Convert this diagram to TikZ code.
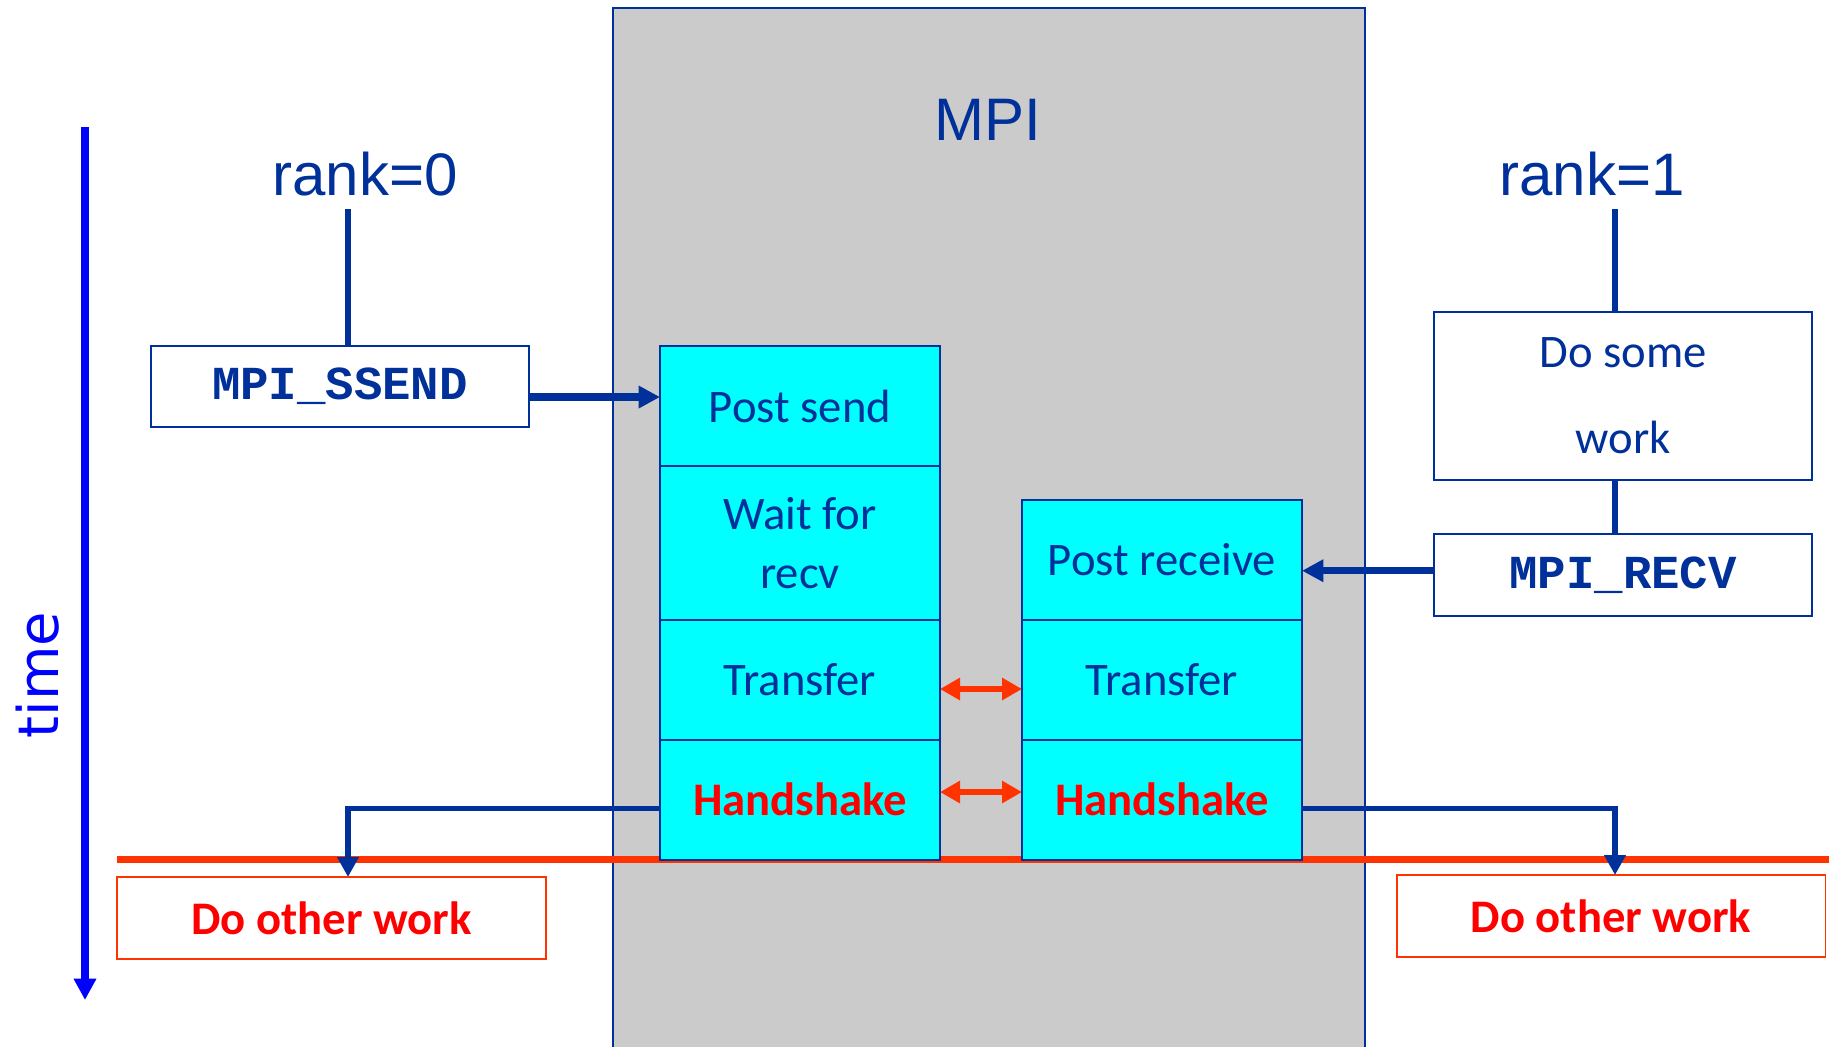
\documentclass[tikz,border=0pt]{standalone}
\usepackage{fontspec}
\setmainfont{Carlito}
\newfontfamily\arialfont{Liberation Sans}
\newfontfamily\courfont{Liberation Mono}
\newfontfamily\dejafont{DejaVu Sans}
\usetikzlibrary{arrows.meta}

\definecolor{mpinavy}{RGB}{0,48,153}
\definecolor{mpigray}{RGB}{203,203,203}
\definecolor{mpired}{RGB}{255,0,0}
\definecolor{mpiorange}{RGB}{255,51,0}
\definecolor{mpicyan}{RGB}{0,255,255}
\definecolor{mpiblue}{RGB}{0,0,255}

\tikzset{every picture/.style={line width=0.75pt}}
\tikzset{
  cellbox/.style={draw=mpinavy, line width=1.5pt, fill=mpicyan, minimum width=210pt, minimum height=90pt, inner sep=0pt, outer sep=0pt, align=center, text=mpinavy, font=\fontsize{35}{44}\selectfont},
  shakecell/.style={cellbox, text=mpired, font=\fontsize{35}{44}\selectfont\bfseries},
  callbox/.style={draw=mpinavy, line width=1.5pt, fill=white, minimum width=283.5pt, inner sep=0pt, outer sep=0pt, align=center, text=mpinavy},
  monotext/.style={font=\courfont\fontsize{35.5}{42}\selectfont\bfseries},
  otherbox/.style={draw=mpiorange, line width=1.25pt, fill=white, minimum width=321.5pt, minimum height=61.5pt, inner sep=0pt, outer sep=0pt, text=mpired, font=\fontsize{35}{42}\selectfont\bfseries},
  ranklabel/.style={text=mpinavy, font=\arialfont\fontsize{45}{54}\selectfont, inner sep=0pt, anchor=base},
  conn/.style={draw=mpinavy, line width=4.5pt},
  connarrow/.style={conn, line width=5.5pt, -{Triangle[length=16pt,width=16pt]}},
  donearrow/.style={conn, line width=4pt, -{Triangle[length=15pt,width=15.5pt]}},
  xchg/.style={draw=mpiorange, line width=5pt, {Triangle[length=15pt,width=16pt]}-{Triangle[length=15pt,width=16pt]}},
  timearrow/.style={draw=mpiblue, line width=5.5pt, -{Triangle[length=16pt,width=16pt]}},
  syncline/.style={draw=mpiorange, line width=5.5pt},
}

\begin{document}
\begin{tikzpicture}[x=0.75pt,y=0.75pt,yscale=-1,xscale=1]
\useasboundingbox (0,0) rectangle (1834,1046);

% MPI layer
\draw[draw=mpinavy, line width=1.5pt, fill=mpigray] (613,8) rectangle (1365,1060);
\node[ranklabel] (mpititle) at (988,140) {MPI};

% Sync line
\coordinate (syncL) at (117,859.5);
\coordinate (syncR) at (1829,859.5);
\draw[syncline] (syncL) -- (syncR);

% Text Node
\node[ranklabel] (rank0) at (365,195) {rank=0};
\node[ranklabel] (rank1) at (1592,195) {rank=1};
\node[text=mpiblue, font=\dejafont\fontsize{42}{50}\selectfont, rotate=90, inner sep=0pt] (timelabel) at (38,675) {time};

% Text Node
\node[cellbox] (postsend) at (800,406) {Post send};
\node[cellbox, minimum height=115.5pt] (waitrecv) at (800,543) {Wait for\\recv};
\node[cellbox] (xferL) at (800,680) {Transfer};
\node[shakecell] (shakeL) at (800,799.5) {Handshake};
% Text Node
\node[cellbox] (postrecv) at (1162,560) {Post receive};
\node[cellbox] (xferR) at (1162,680) {Transfer};
\node[shakecell] (shakeR) at (1162,799.5) {Handshake};

% Text Node
\node[callbox, monotext, minimum height=60.75pt] (ssend) at (340,386.5) {MPI\_SSEND};
\node[callbox, minimum height=126pt, font=\fontsize{35}{64.5}\selectfont] (dowork) at (1623,396) {Do some\\work};
\node[callbox, monotext, minimum height=61.5pt] (recv) at (1623,575) {MPI\_RECV};
\node[otherbox] (otherL) at (331.5,918) {Do other work};
\node[otherbox] (otherR) at (1611,916) {Do other work};

% Connection
\coordinate (lane0) at (348,209);
\coordinate (lane1) at (1615,209);
\draw[conn] (lane0) -- (lane0 |- ssend.north);
\draw[conn] (lane1) -- (lane1 |- dowork.north);
\draw[conn] (lane1 |- dowork.south) -- (lane1 |- recv.north);
% Connection
\coordinate (sendpt) at ([yshift=7.9pt]ssend.east);
\draw[connarrow] (sendpt) -- (sendpt -| postsend.west);
\coordinate (recvpt) at ([yshift=-3.2pt]recv.west);
\draw[connarrow] (recvpt) -- (recvpt -| postrecv.east);
% Connection
\coordinate (doneL) at ([yshift=6.9pt]shakeL.west);
\draw[donearrow] (doneL) -| (lane0 |- otherL.north);
\coordinate (doneR) at ([yshift=6.9pt]shakeR.east);
\draw[donearrow] (doneR) -| (lane1 |- otherR.north);
% Connection
\coordinate (xferpt) at ([yshift=6.75pt]xferL.east);
\draw[xchg] (xferpt) -- (xferpt -| xferR.west);
\coordinate (shakept) at ([yshift=-5.6pt]shakeL.east);
\draw[xchg] (shakept) -- (shakept -| shakeR.west);

% Time axis
\coordinate (tstart) at (85,127);
\coordinate (tend) at (85,1000);
\draw[timearrow] (tstart) -- (tend);

\end{tikzpicture}
\end{document}
